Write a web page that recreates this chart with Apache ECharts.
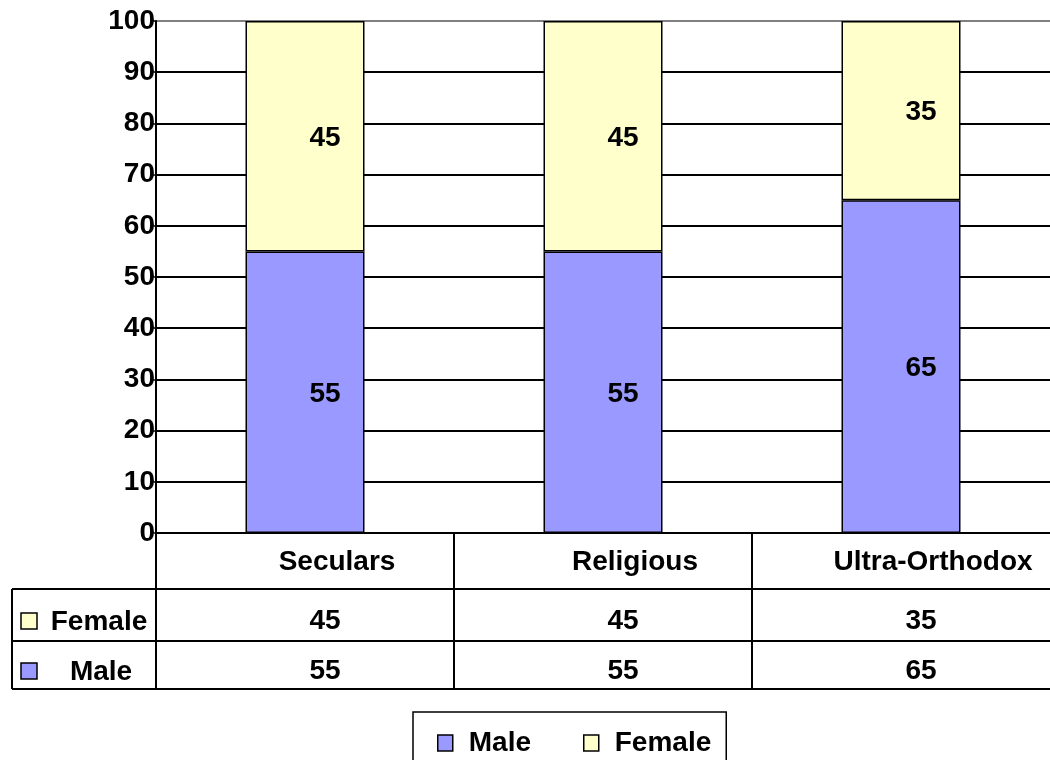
<!DOCTYPE html>
<html>
<head>
<meta charset="utf-8">
<script src="https://cdn.jsdelivr.net/npm/echarts@6/dist/echarts.min.js"></script>
<style>
  html, body { margin: 0; padding: 0; background: #fff; }
  #chart { width: 1050px; height: 760px; }
</style>
</head>
<body>
<div id="chart"></div>
<script>
const categories = ["Seculars", "Religious", "Ultra-Orthodox"];
const maleValues = [55, 55, 65];
const femaleValues = [45, 45, 35];
const seriesNames = ["Male", "Female"];

const maleColor = "#9999FF";
const femaleColor = "#FFFFCC";
const font = "'Liberation Sans', Arial, sans-serif";

const chart = echarts.init(document.getElementById("chart"));

// grid lines: black, top one grey
const gridColors = [];
for (let i = 0; i <= 10; i++) gridColors.push(i === 10 ? "#808080" : "#000");

const barLabel = {
  show: true,
  position: "inside",
  offset: [20, 2],
  color: "#000",
  fontSize: 28,
  fontWeight: "bold",
  fontFamily: font,
};

const options = {
  animation: false,
  grid: { left: 156, right: -4, top: 21, bottom: 227, containLabel: false },
  xAxis: {
    type: "category",
    data: categories,
    axisLine: { lineStyle: { color: "#000", width: 2 } },
    axisTick: { show: false },
    axisLabel: { show: false },
  },
  yAxis: {
    type: "value",
    min: 0,
    max: 100,
    interval: 10,
    axisLine: { show: true, lineStyle: { color: "#000", width: 2 } },
    axisTick: { show: true, length: 6, lineStyle: { color: "#000", width: 1.5 } },
    axisLabel: {
      color: "#000",
      fontSize: 28,
      fontWeight: "bold",
      fontFamily: font,
      margin: 1,
    },
    splitLine: { lineStyle: { color: gridColors, width: 2 } },
  },
  legend: {
    data: seriesNames,
    left: 413,
    top: 712,
    orient: "horizontal",
    padding: [17, 15, 20, 24],
    borderColor: "#000",
    borderWidth: 1.5,
    itemWidth: 15,
    itemHeight: 16,
    itemGap: 52,
    icon: "rect",
    itemStyle: { borderColor: "#000", borderWidth: 1.5 },
    textStyle: {
      color: "#000",
      fontSize: 28,
      fontWeight: "bold",
      fontFamily: font,
      padding: [0, 0, 0, 11],
    },
  },
  series: [
    {
      name: "Male",
      type: "bar",
      stack: "total",
      data: maleValues,
      barWidth: 119,
      itemStyle: { color: maleColor, borderColor: "#000", borderWidth: 1.5 },
      label: barLabel,
    },
    {
      name: "Female",
      type: "bar",
      stack: "total",
      data: femaleValues,
      barWidth: 119,
      itemStyle: { color: femaleColor, borderColor: "#000", borderWidth: 1.5 },
      label: barLabel,
    },
  ],
};
chart.setOption(options);

// data table under the plot
const drawTable = () => {
  const centers = categories.map((c) => chart.convertToPixel({ xAxisIndex: 0 }, c));
  const band = centers[1] - centers[0];
  const axisY = chart.convertToPixel({ yAxisIndex: 0 }, 0);
  const axisX = centers[0] - band / 2;
  const rightX = 1050;
  const row1 = 589, row2 = 641, row3 = 689, leftX = 12;
  const line = { stroke: "#000", lineWidth: 2 };
  const txt = (text, x, y) => ({
    type: "text",
    x: x,
    y: y,
    style: {
      text: text,
      fill: "#000",
      font: "bold 28px " + font,
      align: "center",
      verticalAlign: "middle",
    },
  });
  const els = [];
  [row1, row2, row3].forEach((y) => {
    els.push({ type: "line", shape: { x1: leftX, y1: y, x2: rightX, y2: y }, style: line });
  });
  els.push({ type: "line", shape: { x1: leftX, y1: row1, x2: leftX, y2: row3 }, style: line });
  els.push({ type: "line", shape: { x1: axisX, y1: axisY, x2: axisX, y2: row3 }, style: line });
  centers.forEach((cx, i) => {
    const edge = cx + band / 2;
    if (i < centers.length - 1) {
      els.push({ type: "line", shape: { x1: edge, y1: axisY, x2: edge, y2: row3 }, style: line });
    }
    els.push(txt(categories[i], cx + 32, (axisY + row1) / 2 + 1));
    els.push(txt(String(femaleValues[i]), cx + 20, 621));
    els.push(txt(String(maleValues[i]), cx + 20, 671));
  });
  // row keys
  els.push({
    type: "rect",
    shape: { x: 21, y: 613, width: 16, height: 16 },
    style: { fill: femaleColor, stroke: "#000", lineWidth: 1.5 },
  });
  els.push({
    type: "rect",
    shape: { x: 21, y: 663, width: 16, height: 16 },
    style: { fill: maleColor, stroke: "#000", lineWidth: 1.5 },
  });
  els.push(txt(seriesNames[1], 99, 622));
  els.push(txt(seriesNames[0], 101, 672));
  chart.setOption({ graphic: els });
};
drawTable();
</script>
</body>
</html>
